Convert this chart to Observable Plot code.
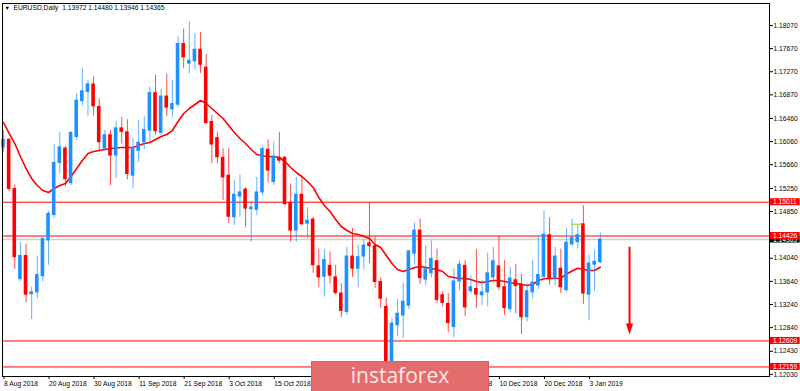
<!DOCTYPE html>
<html><head><meta charset="utf-8">
<script src="https://cdn.jsdelivr.net/npm/d3@7"></script>
<script src="https://cdn.jsdelivr.net/npm/@observablehq/plot@0.6"></script>
<style>
body{margin:0;background:#fff;}
#wrap{position:relative;width:800px;height:391px;overflow:hidden;background:#fff;}
#wrap svg{position:absolute;left:0;top:0;}
#wm{position:absolute;left:311px;top:361px;width:178px;height:32px;background:#e46c6c;border:1px solid #d85f5f;box-sizing:border-box;color:#fde8e8;font:21px "Open Sans",sans-serif;text-align:center;line-height:27px;z-index:2;}
</style></head><body><div id="wrap"><div id="wm">instaforex</div></div>
<script>
const dates = ["2018-08-08","2018-08-09","2018-08-10","2018-08-13","2018-08-14","2018-08-15","2018-08-16","2018-08-17","2018-08-20","2018-08-21","2018-08-22","2018-08-23","2018-08-24","2018-08-27","2018-08-28","2018-08-29","2018-08-30","2018-08-31",
"2018-09-03","2018-09-04","2018-09-05","2018-09-06","2018-09-07","2018-09-10","2018-09-11","2018-09-12","2018-09-13","2018-09-14","2018-09-17","2018-09-18","2018-09-19","2018-09-20","2018-09-21","2018-09-24","2018-09-25","2018-09-26","2018-09-27","2018-09-28",
"2018-10-01","2018-10-02","2018-10-03","2018-10-04","2018-10-05","2018-10-08","2018-10-09","2018-10-10","2018-10-11","2018-10-12","2018-10-15","2018-10-16","2018-10-17","2018-10-18","2018-10-19","2018-10-22","2018-10-23","2018-10-24","2018-10-25","2018-10-26","2018-10-29","2018-10-30","2018-10-31",
"2018-11-01","2018-11-02","2018-11-05","2018-11-06","2018-11-07","2018-11-08","2018-11-09","2018-11-12","2018-11-13","2018-11-14","2018-11-15","2018-11-16","2018-11-19","2018-11-20","2018-11-21","2018-11-22","2018-11-23","2018-11-26","2018-11-27","2018-11-28","2018-11-29","2018-11-30",
"2018-12-03","2018-12-04","2018-12-05","2018-12-06","2018-12-07","2018-12-10","2018-12-11","2018-12-12","2018-12-13","2018-12-14","2018-12-17","2018-12-18","2018-12-19","2018-12-20","2018-12-21","2018-12-24","2018-12-26","2018-12-27","2018-12-28","2018-12-31",
"2019-01-02","2019-01-03","2019-01-04","2019-01-07"];

const open  = [1.1596,1.1609,1.1524,1.1368,1.1408,1.1342,1.1345,1.1373,1.1435,1.1479,1.1569,1.1594,1.1534,1.1614,1.1676,1.1692,1.1705,1.1666,
1.1594,1.1617,1.1582,1.1629,1.1622,1.1547,1.1590,1.1605,1.1625,1.1690,1.1621,1.1684,1.1662,1.1670,1.1775,1.1741,1.1745,1.1765,1.1734,1.1640,
1.1612,1.1578,1.1547,1.1475,1.1511,1.1523,1.1489,1.1488,1.1518,1.1592,1.1536,1.1578,1.1578,1.1500,1.1452,1.1514,1.1464,1.1471,1.1390,1.1372,1.1391,1.1371,1.1343,
1.1311,1.1407,1.1386,1.1407,1.1430,1.1425,1.1363,1.1320,1.1221,1.1288,1.1305,1.1322,1.1412,1.1452,1.1367,1.1378,1.1399,1.1340,1.1325,1.1285,1.1364,1.1391,
1.1347,1.1351,1.1340,1.1345,1.1371,1.1390,1.1354,1.1316,1.1366,1.1359,1.1302,1.1345,1.1357,1.1372,1.1444,1.1369,1.1386,1.1349,1.1428,1.1432,
1.1463,1.1341,1.1393,1.13972];
const high  = [1.1625,1.1612,1.1531,1.1431,1.1428,1.1354,1.1408,1.1442,1.1485,1.1601,1.1622,1.1598,1.1623,1.1689,1.1733,1.1712,1.1718,1.1680,
1.1625,1.1625,1.1641,1.1648,1.1644,1.1612,1.1643,1.1650,1.1700,1.1721,1.1697,1.1723,1.1712,1.1788,1.1801,1.1814,1.1793,1.1795,1.1757,1.1651,
1.1622,1.1594,1.1594,1.1539,1.1549,1.1526,1.1503,1.1544,1.1598,1.1609,1.1605,1.1622,1.1580,1.1533,1.1544,1.1546,1.1492,1.1475,1.1420,1.1419,1.1415,1.1392,1.1360,
1.1423,1.1456,1.1426,1.1436,1.1500,1.1441,1.1370,1.1335,1.1300,1.1333,1.1361,1.1418,1.1465,1.1472,1.1425,1.1434,1.1420,1.1346,1.1343,1.1386,1.1400,1.1400,
1.1374,1.1419,1.1366,1.1413,1.1423,1.1442,1.1400,1.1388,1.1393,1.1377,1.1359,1.1401,1.1441,1.1486,1.1474,1.1423,1.1420,1.1455,1.1472,1.1462,
1.1495,1.1410,1.1418,1.14480];
const low   = [1.1588,1.1520,1.1385,1.1364,1.1327,1.1298,1.1334,1.1364,1.1392,1.1474,1.1550,1.1528,1.1530,1.1608,1.1668,1.1650,1.1650,1.1590,
1.1590,1.1530,1.1542,1.1602,1.1540,1.1525,1.1570,1.1592,1.1606,1.1617,1.1617,1.1649,1.1648,1.1665,1.1732,1.1723,1.1730,1.1724,1.1636,1.1568,
1.1568,1.1504,1.1464,1.1461,1.1475,1.1458,1.1432,1.1478,1.1512,1.1534,1.1530,1.1568,1.1495,1.1432,1.1432,1.1460,1.1438,1.1378,1.1354,1.1337,1.1359,1.1340,1.1301,
1.1305,1.1371,1.1353,1.1385,1.1395,1.1352,1.1317,1.1216,1.1216,1.1268,1.1265,1.1315,1.1392,1.1359,1.1356,1.1370,1.1326,1.1320,1.1276,1.1267,1.1348,1.1303,
1.1342,1.1317,1.1322,1.1320,1.1360,1.1348,1.1305,1.1310,1.1308,1.1272,1.1294,1.1334,1.1350,1.1369,1.1357,1.1357,1.1343,1.1345,1.1425,1.1420,
1.1324,1.1296,1.1346,1.13946];
const close = [1.1609,1.1524,1.1406,1.1408,1.1341,1.1345,1.1375,1.1437,1.1481,1.1569,1.1596,1.1541,1.1621,1.1677,1.1693,1.1705,1.1667,1.1605,
1.1617,1.1582,1.1629,1.1623,1.1550,1.1595,1.1604,1.1626,1.1690,1.1624,1.1684,1.1665,1.1671,1.1775,1.1752,1.1746,1.1765,1.1739,1.1638,1.1601,
1.1579,1.1544,1.1476,1.1514,1.1518,1.1490,1.1492,1.1518,1.1593,1.1556,1.1580,1.1573,1.1498,1.1452,1.1514,1.1463,1.1469,1.1392,1.1371,1.1401,1.1374,1.1344,1.1313,
1.1407,1.1386,1.1406,1.1426,1.1425,1.1363,1.1334,1.1221,1.1291,1.1308,1.1329,1.1416,1.1452,1.1370,1.1385,1.1403,1.1332,1.1327,1.1292,1.1364,1.1393,1.1319,
1.1354,1.1341,1.1345,1.1378,1.1399,1.1354,1.1318,1.1369,1.1356,1.1302,1.1347,1.1362,1.1375,1.1445,1.1368,1.1407,1.1354,1.1431,1.1439,1.1444,
1.1343,1.1395,1.1398,1.14365];
const ma = [1.16391,1.16201,1.16027,1.15802,1.15595,1.15422,1.15300,1.15214,1.15179,1.15248,
1.15300,1.15335,1.15456,1.15595,1.15733,1.15854,1.15889,1.15906,1.15924,1.15941,
1.15950,1.15958,1.15958,1.15958,1.15993,1.16027,1.16045,1.16097,1.16149,1.16183,
1.16252,1.16408,1.16547,1.16633,1.16703,1.16772,1.16720,1.16633,1.16547,1.16460,
1.16339,1.16218,1.16114,1.16027,1.15924,1.15837,1.15811,1.15802,1.15802,1.15785,
1.15716,1.15612,1.15525,1.15456,1.15370,1.15266,1.15093,1.14954,1.14850,1.14712,
1.14591,1.14521,1.14470,1.14452,1.14418,1.14383,1.14279,1.14227,1.14089,1.13950,
1.13846,1.13812,1.13846,1.13881,1.13898,1.13881,1.13864,1.13846,1.13812,1.13725,
1.13708,1.13691,1.13691,1.13673,1.13639,1.13621,1.13639,1.13656,1.13656,1.13639,
1.13621,1.13604,1.13587,1.13569,1.13587,1.13656,1.13685,1.13691,1.13691,1.13696,
1.13768,1.13820,1.13869,1.13846,1.13829,1.13829,1.13886];

const tickDates  = ["2018-08-08","2018-08-20","2018-08-30","2018-09-11","2018-09-21","2018-10-03","2018-10-15","2018-10-25","2018-11-06","2018-11-16","2018-11-28","2018-12-10","2018-12-20","2019-01-03"];
const tickLabels = ["8 Aug 2018","20 Aug 2018","30 Aug 2018","11 Sep 2018","21 Sep 2018","3 Oct 2018","15 Oct 2018","25 Oct 2018","6 Nov 2018","16 Nov 2018","28 Nov 2018","10 Dec 2018","20 Dec 2018","3 Jan 2019"];
const yTicks = [1.18070,1.17670,1.17270,1.16870,1.16460,1.16060,1.15660,1.15250,1.14850,1.14040,1.13640,1.13240,1.12840,1.12430,1.12030];
const levels = [1.15011,1.14426,1.12609,1.12159];
const lastPrice = 1.14365;
const title = "EURUSD,Daily  1.13972 1.14480 1.13946 1.14365";
// annotations (values in price space)
const arrowBar = 111.2, arrowTop = 1.1423, arrowTip = 1.1272;
const greenLevel = 1.1463, greenFrom = 101, greenTo = 102.8;

const BLUE = "#1e90ff", RED = "#ff0000";
const candles = dates.map((d, i) => ({i, date: d, open: open[i], high: high[i], low: low[i], close: close[i], ma: ma[i]}));
const colorOf = d => d.close >= d.open ? BLUE : RED;
const tickIdx = tickDates.map(d => dates.indexOf(d));
const tickLabel = new Map(tickIdx.map((k, j) => [k, tickLabels[j]]));
const xMax = 136.06;
const boxX1 = xMax + 0.18, boxX2 = xMax + 5.45;
const fs = 6.7;
const downHead = {draw(ctx, size){ const r = Math.sqrt(size/Math.PI); ctx.moveTo(0,0); ctx.lineTo(-0.72*r,-2.2*r); ctx.lineTo(0.72*r,-2.2*r); ctx.closePath(); }};

const chart = Plot.plot({
  width: 800, height: 391,
  marginTop: 3, marginRight: 31, marginBottom: 15, marginLeft: 2,
  style: {fontFamily: '"Liberation Sans", Arial, sans-serif', fontSize: fs + "px", color: "#000", background: "transparent", overflow: "visible"},
  x: {type: "linear", domain: [-0.18, xMax]},
  y: {type: "linear", domain: [1.11994, 1.18451]},
  marks: [
    Plot.ruleY([lastPrice], {stroke: "#cfcfcf", strokeWidth: 1.5}),
    Plot.ruleY(levels, {stroke: RED, strokeWidth: 1}),
    Plot.line(candles, {x: "i", y: "ma", stroke: RED, strokeWidth: 1.6}),
    Plot.ruleX(candles, {x: "i", y1: "low", y2: "high", stroke: colorOf, strokeOpacity: 0.7, strokeWidth: 1}),
    Plot.rect(candles, {x1: d => d.i - 0.32, x2: d => d.i + 0.32, y1: "open", y2: "close", fill: colorOf, insetTop: -0.5, insetBottom: -0.5}),
    Plot.ruleY([greenLevel], {x1: greenFrom, x2: greenTo, stroke: "#a8d030", strokeWidth: 1.2}),
    Plot.ruleX([arrowBar], {y1: arrowTop, y2: arrowTip + 0.0015, stroke: RED, strokeWidth: 2}),
    Plot.dot([arrowTip], {x: () => arrowBar, y: d => d, symbol: downHead, r: 5, fill: RED, stroke: "none"}),
    Plot.frame({stroke: "#000"}),
    Plot.axisX({ticks: tickIdx, tickFormat: i => tickLabel.get(i), tickSize: 3, tickPadding: 2, textAnchor: "start", dx: 0.5, fontSize: fs, label: null}),
    Plot.axisY({anchor: "right", ticks: yTicks, tickFormat: d3.format(".5f"), tickSize: 3, tickPadding: 1, fontSize: fs, label: null}),
    Plot.rect([lastPrice], {x1: boxX1, x2: boxX2, y1: d => d, y2: d => d, insetTop: -3.5, insetBottom: -3.5, fill: "#000"}),
    Plot.text([lastPrice], {x: boxX1 + 0.45, y: d => d, text: d => d3.format(".5f")(d), fill: "#fff", textAnchor: "start", fontSize: fs}),
    Plot.rect(levels, {x1: boxX1, x2: boxX2, y1: d => d, y2: d => d, insetTop: -3.5, insetBottom: -3.5, fill: RED}),
    Plot.text(levels, {x: boxX1 + 0.45, y: d => d, text: d => d3.format(".5f")(d), fill: "#fff", textAnchor: "start", fontSize: fs}),
    Plot.text(["\u25BC"], {frameAnchor: "top-left", dx: 2, dy: 3, text: d => d, fontSize: 5.5}),
    Plot.text([title], {frameAnchor: "top-left", dx: 11, dy: 2, text: d => d, fontSize: fs})
  ]
});
document.getElementById("wrap").prepend(chart);
</script>
</body></html>
